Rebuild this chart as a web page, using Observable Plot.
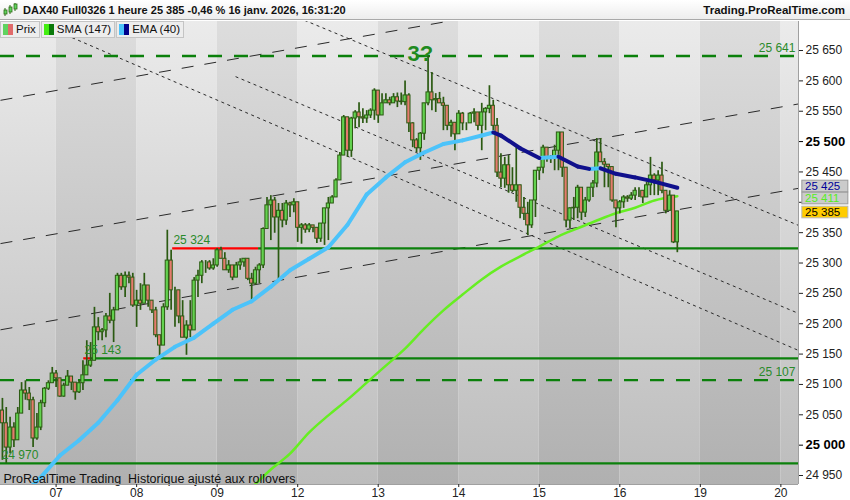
<!DOCTYPE html>
<html><head><meta charset="utf-8">
<script src="https://cdn.jsdelivr.net/npm/d3@7"></script>
<script src="https://cdn.jsdelivr.net/npm/@observablehq/plot@0.6"></script>
<style>
body{margin:0;background:#fff;font-family:"Liberation Sans",Arial,sans-serif;}
#wrap{position:relative;width:850px;height:500px;overflow:hidden;background:#fff;}
#header{position:relative;height:20px;box-sizing:border-box;border-bottom:1px solid #a9a9a9;background:linear-gradient(#ffffff,#ededed);font-weight:bold;line-height:20px;color:#111;}
#header .t{position:absolute;left:23px;top:0;font-size:11px;}
#header .r{position:absolute;right:5px;top:0;font-size:11.5px;}
#header svg{position:absolute;left:3px;top:3px;}
#legend{position:absolute;left:0;top:21px;display:flex;z-index:5;}
.lg{height:17px;box-sizing:border-box;border:1px solid #c4c4c4;background:#ededed;font-size:11.5px;line-height:15px;color:#111;padding:0 3px 0 2px;margin-right:1px;display:flex;align-items:center;}
.lg i{display:inline-block;width:5px;height:11px;}
.lg .sw{display:inline-flex;margin-right:3px;}
#chart{position:absolute;left:0;top:20px;}
</style></head>
<body>
<svg width="0" height="0" style="position:absolute">
<defs>
<linearGradient id="gLight" x1="0" y1="0" x2="0" y2="1"><stop offset="0" stop-color="#ebebeb"/><stop offset="1" stop-color="#bcbcbc"/></linearGradient>
<linearGradient id="gDark" x1="0" y1="0" x2="0" y2="1"><stop offset="0" stop-color="#dddddd"/><stop offset="1" stop-color="#b0b0b0"/></linearGradient>
</defs></svg>
<div id="wrap">
<div id="header">
<svg width="15" height="14"><line x1="2" y1="5" x2="2" y2="13" stroke="#2d6b14"/><rect x="1" y="7" width="3" height="4" fill="#5fd35f" stroke="#2d6b14" stroke-width="0.8"/><line x1="7" y1="2" x2="7" y2="11" stroke="#2d6b14"/><rect x="6" y="4" width="3" height="5" fill="#5fd35f" stroke="#2d6b14" stroke-width="0.8"/><line x1="12" y1="0" x2="12" y2="8" stroke="#2d6b14"/><rect x="11" y="1" width="3" height="5" fill="#5fd35f" stroke="#2d6b14" stroke-width="0.8"/></svg>
<span class="t">DAX40 Full0326 1 heure 25 385 -0,46 % 16 janv. 2026, 16:31:20</span>
<span class="r">Trading.ProRealTime.com</span>
</div>
<div id="legend">
<div class="lg"><span class="sw"><i style="background:#5fd35f"></i><i style="background:#e06a6a"></i></span>Prix</div>
<div class="lg"><span class="sw"><i style="background:#44ee11"></i><i style="background:#0a7a0a"></i></span>SMA (147)</div>
<div class="lg"><span class="sw"><i style="background:#4cc3fa"></i><i style="background:#00008b"></i></span>EMA (40)</div>
</div>
<div id="chart"></div>
</div>
<script>
// ---------- data ----------
const dayLabels = ["06","07","08","09","12","13","14","15","16","19","20"];
const dayStartBar = [-0.5,14,35,56,77,98,119,140,161,182,203];

const firstOpen = 25057;
const closes = [
25036,24996,25029,25008,25052,25090,25085,25074,25011,25029,25069,25093,25102,25118,
25110,25080,25098,25113,25103,25087,25102,25115,25131,25139,25194,25186,25189,25212,25205,25222,25279,25260,25279,25276,25230,
25238,25233,25263,25238,25222,25181,25164,25227,25304,25255,25255,25212,25177,25197,25189,25271,25279,25301,25301,25291,25296,
25321,25307,25288,25296,25276,25296,25301,25307,25274,25266,25288,25296,25356,25395,25403,25375,25386,25370,25398,25395,25400,
25358,25362,25355,25362,25358,25340,25365,25390,25398,25408,25436,25477,25540,25485,25538,25548,25540,25538,25543,25551,25584,
25543,25563,25568,25563,25573,25566,25565,25576,25530,25502,25489,25513,25563,25581,25568,25570,25563,25559,25526,25531,25512,
25546,25530,25530,25546,25548,25526,25548,25554,25559,25526,25449,25439,25461,25428,25419,25428,25391,25381,25362,25403,25452,
25457,25490,25474,25472,25485,25515,25457,25370,25390,25391,25424,25383,25403,25424,25431,25482,25466,25462,25458,25403,25390,
25400,25408,25406,25411,25419,25419,25408,25428,25444,25436,25444,25419,25386,25411,25334,25385];
const highs = [
25077,25062,25046,25037,25062,25103,25106,25095,25079,25052,25074,25095,25106,25128,
25123,25103,25102,25123,25106,25103,25106,25139,25172,25169,25227,25210,25192,25217,25250,25227,25283,25283,25285,25285,25283,
25255,25266,25283,25243,25238,25227,25181,25233,25354,25321,25260,25255,25238,25205,25238,25276,25288,25304,25304,25304,25307,
25324,25326,25317,25304,25291,25301,25307,25307,25304,25283,25293,25299,25358,25408,25411,25408,25398,25398,25403,25400,25406,
25370,25365,25365,25365,25362,25358,25365,25390,25408,25411,25439,25482,25543,25540,25540,25551,25564,25554,25551,25554,25587,
25551,25579,25579,25573,25579,25580,25580,25600,25579,25531,25505,25515,25563,25641,25614,25579,25581,25573,25559,25535,25530,
25551,25548,25531,25548,25554,25548,25563,25556,25592,25568,25538,25480,25474,25477,25457,25490,25414,25408,25400,25403,25452,
25457,25494,25490,25477,25494,25515,25515,25447,25391,25408,25428,25424,25408,25424,25436,25505,25505,25472,25462,25439,25403,
25403,25411,25411,25416,25424,25424,25414,25433,25474,25447,25452,25466,25419,25419,25408,25385];
const lows = [
24975,24970,24986,24996,25013,25052,25074,25057,24996,25008,25024,25062,25090,25102,
25095,25079,25079,25100,25090,25074,25085,25090,25118,25128,25172,25172,25172,25177,25200,25169,25222,25255,25243,25266,25227,
25194,25222,25233,25227,25217,25177,25144,25177,25222,25222,25194,25200,25177,25148,25177,25209,25243,25266,25283,25288,25288,
25293,25307,25288,25283,25271,25283,25288,25293,25271,25235,25263,25266,25291,25358,25337,25349,25271,25358,25362,25375,25383,
25334,25331,25349,25350,25350,25332,25334,25329,25337,25398,25408,25436,25477,25474,25474,25521,25523,25530,25530,25538,25535,
25530,25551,25564,25559,25564,25556,25560,25559,25515,25490,25482,25469,25502,25559,25551,25548,25563,25518,25518,25507,25485,
25518,25518,25518,25530,25531,25518,25485,25518,25546,25518,25441,25424,25423,25415,25416,25400,25373,25370,25345,25357,25375,
25436,25447,25466,25464,25452,25452,25441,25358,25357,25370,25373,25370,25375,25400,25408,25424,25466,25424,25424,25400,25358,
25381,25390,25400,25403,25403,25408,25398,25411,25411,25411,25411,25414,25381,25398,25332,25317];

const smaBars = [65,70,75,80,85,90,95,100,105,110,115,120,125,130,135,140,145,150,155,160,165,170,176];
const smaVals = [24930,24960,24986,25021,25049,25075,25103,25131,25159,25192,25222,25248,25273,25294,25311,25327,25344,25357,25370,25382,25391,25403,25410];

const emaBars = [8,10,15,20,25,30,35,40,45,50,55,60,65,70,75,80,85,90,95,100,105,110,115,120,125,128,130,135,140,145,150,153,156,160,165,170,176];
const emaVals = [24935,24947,24983,25008,25037,25074,25116,25141,25162,25177,25200,25223,25237,25261,25288,25307,25326,25363,25413,25441,25466,25482,25496,25502,25510,25515,25510,25489,25473,25475,25459,25455,25456,25447,25441,25434,25424];

// horizontal levels
const solidLevels = [25324, 25143, 24970];
const solidLevelFrom = [66.8, 23.2, -0.5];
const redLevelFrom = [44.4, 21.2, null];
const dashedLevels = [25641, 25107];
const questionMark = {bar: 109, value: 25641, text: "3?"};

// trend lines (bar index, price)
const channelLines = [
  [-0.5, 25568, 207.6, 25800],
  [-0.5, 25332, 207.6, 25562],
  [-0.5, 25190, 207.6, 25423]
];
const dottedLines = [
  [60, 25749, 207.6, 25362],
  [60.8, 25607, 207.6, 25217],
  [-0.5, 25722, 207.6, 25156]
];

const yTicks = [25650,25600,25550,25500,25450,25400,25350,25300,25250,25200,25150,25100,25050,25000,24950];
const boldTicks = [25500, 25000];
const hiddenTickLabels = [25400];
const lastEma = 25425, lastSma = 25411, lastPrice = 25385;
const caption = "ProRealTime Trading\u00a0\u00a0Historique ajusté aux rollovers";

// ---------- build ----------
const X0 = -0.5, X1 = 207.6, Y0 = 24935.2, Y1 = 25697.8;
const fmt = d => d3.format(",")(d).replace(/,/g, " ");

const bands = dayLabels.map((d, i) => ({start: dayStartBar[i], end: i + 1 < dayStartBar.length ? dayStartBar[i + 1] : X1, dark: i % 2 === 1}));
const bars = closes.map((c, i) => {
  const o = i === 0 ? firstOpen : closes[i - 1];
  return {i, o, c, h: Math.max(highs[i], o, c), l: Math.min(lows[i], o, c)};
});
const sma = smaBars.map((b, i) => ({b, v: smaVals[i]}));
const ema = emaBars.map((b, i) => ({b, v: emaVals[i]}));
const emaSegs = ema.slice(1).map((p, i) => ({x1: ema[i].b, y1: ema[i].v, x2: p.b, y2: p.v, up: p.v >= ema[i].v}));
const toLink = a => ({x1: a[0], y1: a[1], x2: a[2], y2: a[3]});
const solid = solidLevels.map((v, i) => ({v, from: solidLevelFrom[i], red: redLevelFrom[i]}));
const leftLabels = solid.map(s => ({x: s.red != null ? s.red + 0.2 : s.from + 0.3, v: s.v}));
const rightLabels = dashedLevels.map(v => ({x: X1 - 0.8, v}));
const green = "#0b800b", edge = "#2b5a12";
const boxes = [
  {v: lastEma, dy: -0.6, fill: "#cbcbcb", stroke: "#9a9a9a", color: "#000099"},
  {v: lastSma, dy: 2.9, fill: "#cbcbcb", stroke: "#9a9a9a", color: "#55ee22"},
  {v: lastPrice, dy: 1.1, fill: "#ffcc00", stroke: "#b8b8b8", color: "#000"}
];

const chart = Plot.plot({
  width: 850, height: 480,
  marginTop: 1, marginBottom: 16, marginLeft: 0, marginRight: 52,
  x: {domain: [X0, X1]},
  y: {domain: [Y0, Y1]},
  style: {fontFamily: "Liberation Sans, Arial, sans-serif", fontSize: "12px", background: "transparent", overflow: "visible"},
  marks: [
    Plot.rect(bands.filter(d => !d.dark), {x1: "start", x2: "end", fill: "url(#gLight)"}),
    Plot.rect(bands.filter(d => d.dark), {x1: "start", x2: "end", fill: "url(#gDark)"}),
    Plot.link(channelLines.map(toLink), {x1: "x1", y1: "y1", x2: "x2", y2: "y2", stroke: "#2a2a2a", strokeWidth: 1, strokeDasharray: "12,11", clip: true}),
    Plot.link(dottedLines.map(toLink), {x1: "x1", y1: "y1", x2: "x2", y2: "y2", stroke: "#2a2a2a", strokeWidth: 1, strokeDasharray: "3,3.5", clip: true}),
    Plot.ruleY(dashedLevels, {y: d => d, x1: X0, x2: X1, stroke: green, strokeWidth: 2.3, strokeDasharray: "14,12"}),
    Plot.ruleY(solid, {y: "v", x1: "from", x2: X1, stroke: green, strokeWidth: 2.2}),
    Plot.ruleY(solid.filter(s => s.red != null), {y: "v", x1: "red", x2: "from", stroke: "#ff0000", strokeWidth: 2.2}),
    Plot.line(sma, {x: "b", y: "v", stroke: "#66ee22", strokeWidth: 2.5, curve: "monotone-x", clip: true}),
    Plot.ruleX(bars, {x: "i", y1: "l", y2: "h", stroke: edge, strokeWidth: 1.7}),
    Plot.rect(bars.filter(d => d.c >= d.o), {x1: d => d.i - 0.42, x2: d => d.i + 0.42, y1: "o", y2: "c", fill: "#63d24f", stroke: edge, strokeWidth: 1}),
    Plot.rect(bars.filter(d => d.c < d.o), {x1: d => d.i - 0.42, x2: d => d.i + 0.42, y1: "o", y2: "c", fill: "#e57b6e", stroke: edge, strokeWidth: 1}),
    Plot.link(emaSegs.filter(s => s.up), {x1: "x1", y1: "y1", x2: "x2", y2: "y2", stroke: "#4cc3fa", strokeWidth: 4, strokeLinecap: "round", clip: true}),
    Plot.link(emaSegs.filter(s => !s.up), {x1: "x1", y1: "y1", x2: "x2", y2: "y2", stroke: "#10108c", strokeWidth: 4, strokeLinecap: "round", clip: true}),
    Plot.text(leftLabels, {x: "x", y: "v", text: d => fmt(d.v), textAnchor: "start", dy: -8, fill: "#2a8a2a", fontSize: 12}),
    Plot.text(rightLabels, {x: "x", y: "v", text: d => fmt(d.v), textAnchor: "end", dy: -8, fill: "#2a8a2a", fontSize: 12}),
    Plot.text([questionMark], {x: "bar", y: "value", text: "text", fontSize: 22, fontWeight: "bold", fill: "#1f8a1f", dy: -2}),
    Plot.text([caption], {frameAnchor: "bottom-left", dx: 3, dy: -2, fontSize: 12.5, fill: "#111", textAnchor: "start"}),
    Plot.ruleX([X1], {stroke: "#a0a0a0"}),
    Plot.ruleY([Y0], {stroke: "#a0a0a0"}),
    Plot.axisY({ticks: yTicks.filter(t => !boldTicks.includes(t)), anchor: "right", tickSize: 4, tickPadding: 3, tickFormat: d => hiddenTickLabels.includes(d) ? "" : fmt(d), fontSize: 12, color: "#222"}),
    Plot.axisY({ticks: boldTicks, anchor: "right", tickSize: 4, tickPadding: 3, tickFormat: fmt, fontSize: 13, fontWeight: "bold", color: "#000"}),
    Plot.axisX({ticks: dayStartBar.slice(1), tickFormat: d => dayLabels[dayStartBar.indexOf(d)], tickSize: 3, tickPadding: 1, fontSize: 12, color: "#222"}),
    ...boxes.map(b => Plot.rect([b], {x1: X1 + 1, x2: X1 + 13, y1: d => d.v - 9.6, y2: d => d.v + 9.6, dy: b.dy, fill: b.fill, stroke: b.stroke})),
    ...boxes.map(b => Plot.text([b], {x: X1 + 1.7, y: "v", text: d => fmt(d.v), textAnchor: "start", dy: b.dy, fill: b.color, fontSize: 11.5}))
  ]
});
document.getElementById("chart").appendChild(chart);
</script>
</body></html>
